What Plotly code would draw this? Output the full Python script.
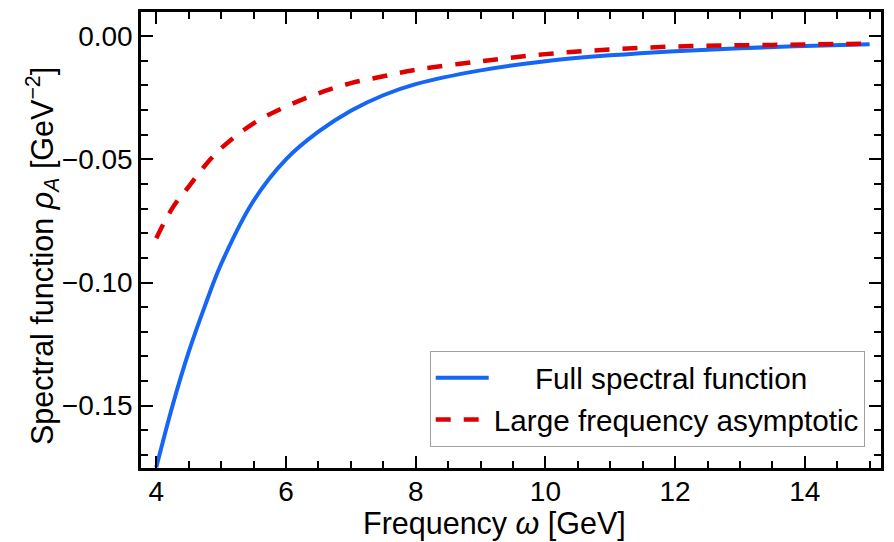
import plotly.graph_objects as go

# Frequency grid (GeV)
omega = [4.0, 4.25, 4.5, 4.75, 5.0, 5.5, 6.0, 6.5, 7.0, 7.5, 8.0, 9.0, 10.0, 11.0, 12.0, 13.0, 14.0, 15.0]

# Full spectral function rho_A (GeV^-2)
rho_full = [-0.1750, -0.1500, -0.1282, -0.1095, -0.0925, -0.0668, -0.0500, -0.0388, -0.0303, -0.0240,
            -0.0195, -0.0139, -0.0102, -0.0078, -0.0061, -0.0049, -0.0040, -0.0033]

# Large frequency asymptotic
rho_asym = [-0.0820, -0.0697, -0.0611, -0.0526, -0.0455, -0.0354, -0.0286, -0.0232, -0.0191, -0.0163,
            -0.0137, -0.0102, -0.0073, -0.0054, -0.0042, -0.0037, -0.0034, -0.0030]

x_ticks = [4, 6, 8, 10, 12, 14]
y_ticks = [0.0, -0.05, -0.10, -0.15]
y_ticklabels = ["0.00", "\u22120.05", "\u22120.10", "\u22120.15"]

FONT = "Liberation Sans, Arial, sans-serif"

fig = go.Figure()
fig.add_trace(go.Scatter(
    x=omega, y=rho_full, mode="lines", line_shape="spline",
    line=dict(color="rgb(22,102,245)", width=4),
    name="\u00a0\u00a0\u00a0\u00a0\u00a0Full spectral function",
))
fig.add_trace(go.Scatter(
    x=omega, y=rho_asym, mode="lines", line_shape="spline",
    line=dict(color="rgb(222,0,0)", width=4.5, dash="15px,13px"),
    name="Large frequency asymptotic",
))

axis_common = dict(
    showline=True, linecolor="black", linewidth=2.5, mirror="allticks",
    ticks="inside", ticklen=12, tickwidth=2, tickcolor="black",
    showgrid=False, zeroline=False,
    tickfont=dict(family=FONT, size=28, color="black"),
)

fig.update_xaxes(
    range=[3.764, 15.175], tickvals=x_ticks, ticklabelstandoff=-3,
    minor=dict(dtick=0.5, ticks="inside", ticklen=7, tickwidth=2, tickcolor="black", showgrid=False),
    **axis_common,
)
fig.update_yaxes(
    range=[-0.1753, 0.0098], tickvals=y_ticks, ticktext=y_ticklabels,
    minor=dict(dtick=0.01, tick0=0, ticks="inside", ticklen=7, tickwidth=2, tickcolor="black", showgrid=False),
    **axis_common,
)

TITLE_FONT = dict(family=FONT, size=30.5, color="black")
fig.add_annotation(
    text="Frequency <i>\u03c9</i> [GeV]", xref="paper", yref="paper",
    x=0.478, y=-0.122, xanchor="center", yanchor="middle", showarrow=False, font=TITLE_FONT,
)
fig.add_annotation(
    text="Spectral function <i>\u03c1</i><sub><i>A</i></sub> [GeV<sup>\u22122</sup>]", xref="paper", yref="paper",
    x=-0.133, y=0.464, xanchor="center", yanchor="middle", textangle=-90, showarrow=False, font=TITLE_FONT,
)

fig.update_layout(
    width=894, height=542,
    margin=dict(l=141, r=13, t=9, b=74),
    paper_bgcolor="white", plot_bgcolor="white",
    showlegend=True,
    legend=dict(
        x=0.978, y=0.046, xanchor="right", yanchor="bottom",
        bgcolor="white", bordercolor="rgb(160,160,160)", borderwidth=1,
        font=dict(family=FONT, size=29.7, color="black"),
        tracegroupgap=0, itemwidth=53,
    ),
)

fig.write_html("out.html", config={"displayModeBar": False},
               post_script="document.body.style.margin='0px';")
